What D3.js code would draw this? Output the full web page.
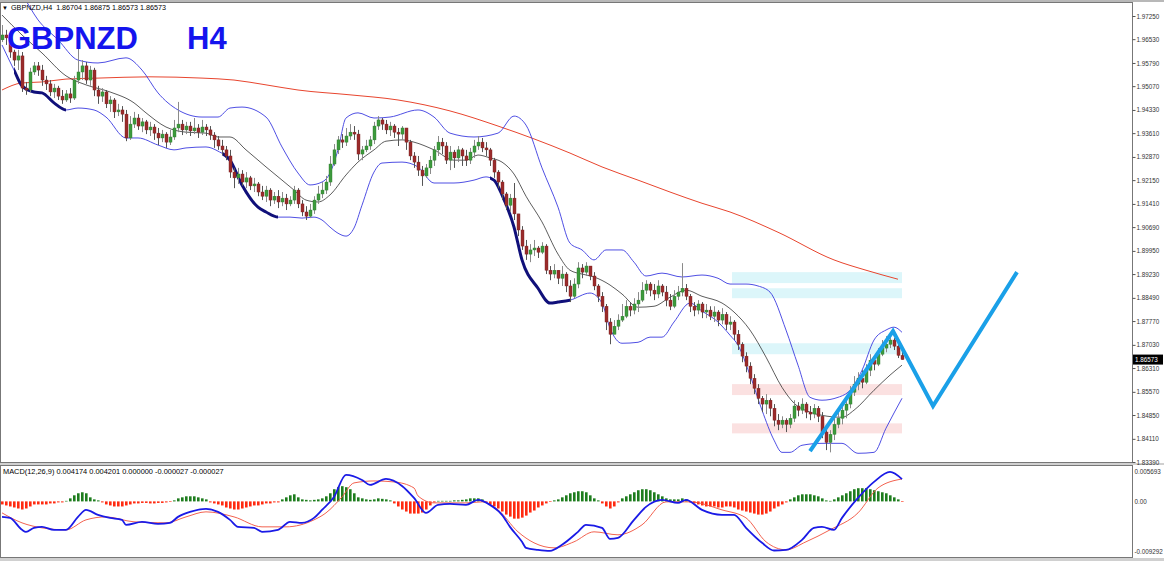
<!DOCTYPE html>
<html><head><meta charset="utf-8">
<script src="https://cdn.jsdelivr.net/npm/d3@7"></script>
<style>
body{margin:0;background:#fff;}
svg{display:block;}
text{font-family:"Liberation Sans",Arial,sans-serif;}
</style>
</head><body>
<svg id="c" width="1164" height="561"></svg>
<script>
// ---------------- DATA ----------------
const symbolLabel = "GBPNZD,H4";
const headerOHLC = ["1.86704", "1.86875", "1.86573", "1.86573"];
const titleSymbol = "GBPNZD";
const titlePeriod = "H4";
const lastPrice = 1.86573;
const firstOpen = 1.9651;

const closes = [1.9666,1.9657,1.9613,1.9588,1.9601,1.9501,1.9495,1.9551,1.9570,1.9557,1.9526,
1.9514,1.9489,1.9501,1.9476,1.9464,1.9483,1.9470,1.9526,1.9551,1.9570,
1.9526,1.9557,1.9495,1.9476,1.9489,1.9452,1.9464,1.9427,1.9433,1.9420,
1.9346,1.9389,1.9408,1.9383,1.9396,1.9371,1.9380,1.9361,1.9346,1.9358,
1.9333,1.9349,1.9377,1.9389,1.9371,1.9383,1.9368,1.9377,1.9364,1.9380,
1.9371,1.9355,1.9340,1.9321,1.9309,1.9290,1.9240,1.9222,1.9234,1.9209,
1.9222,1.9197,1.9203,1.9178,1.9165,1.9184,1.9153,1.9165,1.9147,1.9159,
1.9141,1.9153,1.9184,1.9141,1.9116,1.9103,1.9122,1.9153,1.9172,1.9184,
1.9209,1.9265,1.9309,1.9340,1.9333,1.9352,1.9364,1.9358,1.9296,1.9309,
1.9321,1.9340,1.9383,1.9402,1.9389,1.9371,1.9383,1.9364,1.9358,1.9377,
1.9333,1.9290,1.9271,1.9246,1.9228,1.9253,1.9277,1.9309,1.9333,1.9321,
1.9277,1.9302,1.9284,1.9309,1.9290,1.9277,1.9302,1.9321,1.9333,1.9315,
1.9309,1.9277,1.9240,1.9209,1.9172,1.9137,1.9159,1.9110,1.9060,1.9010,
1.8985,1.8998,1.9004,1.8991,1.9010,1.8935,1.8923,1.8935,1.8910,1.8923,
1.8886,1.8854,1.8892,1.8942,1.8929,1.8948,1.8917,1.8886,1.8854,1.8823,
1.8774,1.8736,1.8761,1.8780,1.8792,1.8823,1.8811,1.8830,1.8842,1.8873,
1.8892,1.8873,1.8861,1.8886,1.8867,1.8842,1.8823,1.8854,1.8867,1.8879,
1.8854,1.8823,1.8811,1.8830,1.8805,1.8811,1.8792,1.8805,1.8780,1.8798,
1.8767,1.8774,1.8736,1.8705,1.8668,1.8637,1.8599,1.8568,1.8537,1.8519,
1.8531,1.8506,1.8469,1.8456,1.8469,1.8456,1.8475,1.8513,1.8500,1.8519,
1.8494,1.8488,1.8506,1.8481,1.8432,1.8400,1.8425,1.8456,1.8475,1.8500,
1.8519,1.8556,1.8581,1.8599,1.8587,1.8624,1.8655,1.8643,1.8674,1.8693,
1.8705,1.8718,1.8699,1.86704,1.86573];

const highs = [1.9697,1.9682,1.9663,1.9620,1.9620,1.9613,1.9520,1.9564,1.9582,1.9582,1.9573,
1.9539,1.9526,1.9514,1.9508,1.9495,1.9495,1.9501,1.9539,1.9629,1.9588,
1.9582,1.9570,1.9564,1.9508,1.9501,1.9495,1.9476,1.9470,1.9452,1.9445,
1.9433,1.9414,1.9427,1.9420,1.9408,1.9402,1.9396,1.9389,1.9377,1.9371,
1.9364,1.9371,1.9402,1.9458,1.9402,1.9396,1.9396,1.9408,1.9389,1.9402,
1.9389,1.9383,1.9364,1.9352,1.9340,1.9321,1.9309,1.9253,1.9253,1.9246,
1.9240,1.9228,1.9222,1.9209,1.9197,1.9197,1.9190,1.9178,1.9184,1.9178,
1.9172,1.9165,1.9197,1.9190,1.9153,1.9134,1.9141,1.9165,1.9197,1.9209,
1.9228,1.9290,1.9327,1.9352,1.9358,1.9377,1.9389,1.9383,1.9371,1.9321,
1.9340,1.9352,1.9396,1.9414,1.9408,1.9402,1.9396,1.9389,1.9377,1.9383,
1.9377,1.9340,1.9302,1.9290,1.9259,1.9265,1.9290,1.9321,1.9352,1.9346,
1.9333,1.9321,1.9309,1.9321,1.9315,1.9309,1.9315,1.9340,1.9352,1.9346,
1.9333,1.9315,1.9284,1.9246,1.9215,1.9178,1.9172,1.9206,1.9103,1.9072,
1.9029,1.9016,1.9029,1.9010,1.9022,1.9016,1.8948,1.8954,1.8935,1.8948,
1.8929,1.8904,1.8910,1.8960,1.8954,1.8960,1.8948,1.8929,1.8892,1.8867,
1.8830,1.8786,1.8780,1.8798,1.8830,1.8842,1.8836,1.8848,1.8867,1.8898,
1.8904,1.8898,1.8892,1.8904,1.8892,1.8886,1.8861,1.8873,1.8886,1.8957,
1.8892,1.8861,1.8836,1.8842,1.8836,1.8830,1.8823,1.8823,1.8811,1.8817,
1.8805,1.8792,1.8780,1.8749,1.8711,1.8680,1.8649,1.8612,1.8581,1.8544,
1.8550,1.8537,1.8519,1.8488,1.8481,1.8475,1.8488,1.8531,1.8525,1.8537,
1.8525,1.8513,1.8519,1.8513,1.8494,1.8444,1.8438,1.8475,1.8494,1.8519,
1.8537,1.8575,1.8606,1.8618,1.8624,1.8643,1.8674,1.8668,1.8693,1.8718,
1.8730,1.8742,1.8724,1.8711,1.86875];

const lows = [1.9644,1.9635,1.9595,1.9570,1.9557,1.9489,1.9480,1.9489,1.9542,1.9539,1.9508,
1.9495,1.9476,1.9470,1.9464,1.9452,1.9458,1.9455,1.9464,1.9514,1.9526,
1.9514,1.9508,1.9476,1.9452,1.9458,1.9439,1.9427,1.9408,1.9414,1.9396,
1.9336,1.9340,1.9377,1.9371,1.9364,1.9358,1.9352,1.9340,1.9324,1.9333,
1.9315,1.9324,1.9340,1.9364,1.9355,1.9358,1.9352,1.9358,1.9346,1.9355,
1.9352,1.9340,1.9315,1.9309,1.9293,1.9277,1.9222,1.9190,1.9203,1.9197,
1.9190,1.9184,1.9178,1.9165,1.9153,1.9147,1.9134,1.9141,1.9128,1.9134,
1.9122,1.9134,1.9141,1.9128,1.9103,1.9091,1.9097,1.9110,1.9141,1.9159,
1.9172,1.9197,1.9259,1.9296,1.9315,1.9321,1.9340,1.9340,1.9277,1.9277,
1.9302,1.9309,1.9327,1.9371,1.9371,1.9358,1.9352,1.9346,1.9321,1.9340,
1.9309,1.9277,1.9253,1.9228,1.9197,1.9222,1.9234,1.9259,1.9290,1.9296,
1.9265,1.9246,1.9253,1.9271,1.9259,1.9259,1.9265,1.9284,1.9309,1.9302,
1.9290,1.9259,1.9222,1.9190,1.9153,1.9122,1.9116,1.9091,1.9041,1.8998,
1.8967,1.8960,1.8979,1.8973,1.8985,1.8923,1.8904,1.8910,1.8892,1.8886,
1.8867,1.8836,1.8848,1.8879,1.8910,1.8917,1.8904,1.8873,1.8836,1.8805,
1.8749,1.8705,1.8736,1.8749,1.8774,1.8786,1.8792,1.8798,1.8805,1.8836,
1.8861,1.8854,1.8842,1.8848,1.8854,1.8823,1.8811,1.8817,1.8842,1.8854,
1.8842,1.8805,1.8792,1.8798,1.8786,1.8786,1.8780,1.8774,1.8761,1.8767,
1.8749,1.8749,1.8718,1.8687,1.8649,1.8618,1.8581,1.8550,1.8519,1.8494,
1.8488,1.8481,1.8450,1.8438,1.8444,1.8432,1.8444,1.8463,1.8481,1.8488,
1.8475,1.8469,1.8475,1.8463,1.8413,1.8376,1.8369,1.8407,1.8444,1.8456,
1.8475,1.8506,1.8544,1.8562,1.8568,1.8581,1.8606,1.8624,1.8637,1.8668,
1.8680,1.8693,1.8687,1.8662,1.86573];

const priceTicks = [1.97250,1.96530,1.95790,1.95070,1.94330,1.93610,1.92870,1.92150,1.91410,1.90690,
1.89950,1.89230,1.88490,1.87770,1.87030,1.86310,1.85570,1.84850,1.84110,1.83390];

// Bollinger bands (sampled at bar index)
const upperIdx = [0,5,9,14,19,24,31,35,39,44,50,54,57,60,66,70,74,77,80,82,84,86,89,93,97,104,108,112,118,124,128,131,135,139,142,145,148,151,155,158,161,165,170,175,179,182,186,189,192,196,199,202,205,209,212,215,218,221,223,225];
const upperBand = [1.9853,1.9791,1.9713,1.9651,1.9588,1.9579,1.9595,1.9557,1.9486,1.9433,1.9411,1.9411,1.9439,1.9442,1.9411,1.9318,1.9237,1.9200,1.9209,1.9237,1.9309,1.9408,1.9424,1.9408,1.9411,1.9433,1.9411,1.9361,1.9349,1.9361,1.9414,1.9386,1.9253,1.9131,1.9019,1.8998,1.8967,1.8998,1.8998,1.8960,1.8917,1.8926,1.8914,1.8920,1.8910,1.8892,1.8892,1.8886,1.8867,1.8749,1.8640,1.8540,1.8531,1.8540,1.8562,1.8624,1.8718,1.8749,1.8758,1.8742];
const middleIdx = [0,5,10,16,21,27,33,36,41,46,51,54,57,61,66,70,73,76,79,82,86,89,93,96,100,103,108,113,116,119,122,125,128,131,135,139,142,145,148,152,155,159,163,167,171,175,180,183,187,191,195,198,202,205,210,213,218,222,225];
const middleBand = [1.9728,1.9666,1.9610,1.9539,1.9511,1.9489,1.9455,1.9424,1.9380,1.9364,1.9361,1.9349,1.9349,1.9309,1.9256,1.9215,1.9184,1.9153,1.9147,1.9169,1.9231,1.9271,1.9309,1.9336,1.9340,1.9333,1.9309,1.9277,1.9277,1.9293,1.9284,1.9271,1.9234,1.9165,1.9085,1.8985,1.8935,1.8923,1.8914,1.8889,1.8861,1.8820,1.8823,1.8851,1.8873,1.8854,1.8833,1.8805,1.8749,1.8665,1.8571,1.8522,1.8494,1.8484,1.8478,1.8500,1.8562,1.8609,1.8640];
const lowerIdx = [0,3,5,8,10,13,16,19,23,26,31,34,39,43,46,51,54,57,60,64,66,69,72,75,78,80,82,84,86,88,90,93,95,100,104,108,113,118,121,123,125,128,130,134,137,139,142,147,150,152,155,159,162,165,168,172,175,179,182,184,187,190,193,195,197,200,205,210,214,218,221,225];
const lowerBand = [1.9635,1.9557,1.9508,1.9489,1.9486,1.9455,1.9433,1.9439,1.9433,1.9411,1.9346,1.9346,1.9324,1.9309,1.9315,1.9318,1.9305,1.9277,1.9200,1.9131,1.9116,1.9100,1.9100,1.9097,1.9100,1.9091,1.9069,1.9050,1.9041,1.9066,1.9137,1.9240,1.9268,1.9271,1.9256,1.9206,1.9206,1.9215,1.9225,1.9215,1.9169,1.9069,1.8967,1.8879,1.8833,1.8836,1.8842,1.8864,1.8833,1.8755,1.8708,1.8711,1.8727,1.8727,1.8774,1.8833,1.8808,1.8774,1.8733,1.8702,1.8609,1.8500,1.8407,1.8369,1.8369,1.8391,1.8397,1.8397,1.8366,1.8369,1.8444,1.8537];
// bar ranges where the lower band is drawn bold
const boldFrom = [3, 55, 122];
const boldTo = [16, 69, 142];

// Moving average (red)
const maIdx = [0,5,10,16,24,37,50,58,66,74,87,99,112,124,142,150,159,167,175,182,194,208,216,224];
const maValues = [1.9495,1.9517,1.9520,1.9529,1.9532,1.9536,1.9532,1.9526,1.9511,1.9495,1.9480,1.9464,1.9430,1.9383,1.9299,1.9256,1.9215,1.9178,1.9143,1.9116,1.9053,1.8967,1.8935,1.8907];

// Zones
const zoneStart = 182.5, zoneEnd = 225;
const zoneHigh = [1.8929, 1.8879, 1.8708, 1.8581, 1.8459];
const zoneLow  = [1.8895, 1.8848, 1.8674, 1.8547, 1.8428];
const zoneKind = ["supply","supply","supply","demand","demand"];

// Projection zigzag
const zigIdx = [202, 222.75, 232.75, 253.75];
const zigPrice = [1.8373, 1.8746, 1.8513, 1.8929];

// MACD
const macdLabel = "MACD(12,26,9) 0.004174 0.004201 0.000000 -0.000027 -0.000027";
const macdTicks = [0.005693, 0, -0.009292];
const macdTickLabels = ["0.005693", "0.00", "-0.009292"];
const histogram = [-0.00057,-0.00076,-0.00095,-0.00114,-0.00133,-0.00152,-0.00133,-0.00095,-0.00057,-0.00057,
-0.00057,-0.00057,-0.00038,-0.00038,-0.00019,-0.00019,0.00010,0.00057,0.00114,0.00152,
0.00171,0.00152,0.00076,0.00038,0.00019,-0.00019,-0.00057,-0.00076,-0.00095,-0.00095,
-0.00095,-0.00076,-0.00057,-0.00038,-0.00038,-0.00029,-0.00029,-0.00038,-0.00038,-0.00029,
-0.00029,-0.00019,-0.00010,0.00019,0.00057,0.00076,0.00095,0.00095,0.00095,0.00076,
0.00057,0.00038,-0.00019,-0.00038,-0.00057,-0.00076,-0.00114,-0.00133,-0.00152,-0.00152,
-0.00133,-0.00114,-0.00095,-0.00076,-0.00076,-0.00057,-0.00038,-0.00038,-0.00019,-0.00019,
0.00038,0.00076,0.00114,0.00133,0.00076,0.00038,0.00029,0.00019,0.00029,0.00038,
0.00057,0.00095,0.00152,0.00228,0.00266,0.00285,0.00266,0.00228,0.00152,0.00076,
0.00057,0.00038,0.00029,0.00038,0.00057,0.00048,0.00038,0.00019,-0.00038,-0.00095,
-0.00152,-0.00190,-0.00228,-0.00228,-0.00228,-0.00209,-0.00152,-0.00076,-0.00019,0.00010,
0.00010,0.00010,0.00010,0.00019,0.00019,0.00029,0.00038,0.00057,0.00057,0.00057,
0.00038,-0.00019,-0.00057,-0.00095,-0.00133,-0.00190,-0.00247,-0.00285,-0.00323,-0.00323,
-0.00304,-0.00266,-0.00209,-0.00171,-0.00114,-0.00076,-0.00038,-0.00010,0.00019,0.00038,
0.00076,0.00114,0.00152,0.00171,0.00190,0.00190,0.00171,0.00114,0.00057,0.00019,
-0.00038,-0.00095,-0.00133,-0.00095,-0.00019,0.00057,0.00095,0.00133,0.00171,0.00209,
0.00228,0.00228,0.00209,0.00171,0.00133,0.00095,0.00057,0.00038,0.00038,0.00038,
0.00057,0.00038,-0.00019,-0.00038,-0.00057,-0.00076,-0.00095,-0.00095,-0.00095,-0.00114,
-0.00114,-0.00095,-0.00095,-0.00114,-0.00152,-0.00171,-0.00190,-0.00209,-0.00228,-0.00247,
-0.00247,-0.00228,-0.00190,-0.00133,-0.00095,-0.00057,-0.00019,0.00038,0.00076,0.00114,
0.00133,0.00133,0.00133,0.00114,0.00095,0.00057,0.00019,0.00010,0.00038,0.00076,
0.00114,0.00152,0.00190,0.00228,0.00247,0.00247,0.00247,0.00228,0.00209,0.00190,
0.00171,0.00152,0.00114,0.00076,0.00038,-0.000027];
const macdIdx = [0,2,5,6,8,10,13,16,19,21,24,27,30,31,35,39,42,44,47,51,54,57,59,63,65,69,72,75,78,80,83,86,90,92,96,100,103,106,109,112,116,119,122,125,127,130,131,134,137,140,144,146,150,152,154,158,161,165,169,171,175,180,183,186,190,193,196,200,203,205,208,210,214,218,222,225];
const macdMain = [-0.00290,-0.00309,-0.00533,-0.00570,-0.00496,-0.00477,-0.00533,-0.00533,-0.00290,-0.00159,-0.00252,-0.00309,-0.00346,-0.00439,-0.00383,-0.00421,-0.00402,-0.00290,-0.00196,-0.00140,-0.00196,-0.00346,-0.00477,-0.00496,-0.00570,-0.00533,-0.00383,-0.00402,-0.00309,-0.00159,0.00084,0.00496,0.00402,0.00309,0.00421,0.00290,0.00065,-0.00215,-0.00065,-0.00047,-0.00065,0.00028,-0.00065,-0.00252,-0.00477,-0.00757,-0.00870,-0.00907,-0.00925,-0.00813,-0.00570,-0.00439,-0.00496,-0.00701,-0.00683,-0.00346,-0.00103,0.00028,-0.00028,0.00028,-0.00159,-0.00252,-0.00252,-0.00496,-0.00776,-0.00920,-0.00910,-0.00720,-0.00496,-0.00477,-0.00533,-0.00309,0.00065,0.00365,0.00552,0.004174];
const signalIdx = [0,5,10,16,21,26,33,41,46,51,58,65,71,78,81,85,88,93,98,103,104,108,116,120,124,129,133,138,143,148,154,160,166,172,180,186,191,196,201,207,214,219,225];
const macdSignal = [-0.00215,-0.00402,-0.00496,-0.00533,-0.00346,-0.00290,-0.00383,-0.00402,-0.00290,-0.00196,-0.00290,-0.00477,-0.00477,-0.00346,-0.00215,0.00084,0.00346,0.00383,0.00365,0.00252,0.00103,-0.00028,-0.00028,-0.00009,-0.00159,-0.00570,-0.00776,-0.00870,-0.00757,-0.00570,-0.00626,-0.00439,-0.00009,-0.00009,-0.00159,-0.00309,-0.00757,-0.00907,-0.00757,-0.00533,-0.00215,0.00252,0.004201];

// ---------------- DRAW ----------------
const W = 1164, H = 561;
const plotRight = 1132;
const mainTop = 2, mainBottom = 463;
const macdTop = 465, macdBottom = 558;

const svg = d3.select("#c");
const x = d3.scaleLinear().domain([0, 282.5]).range([2, plotRight]);
const y = d3.scaleLinear().domain([1.83390, 1.97250]).range([462, 16]);
const ym = d3.scaleLinear().domain([-0.009292, 0.005693]).range([551, 471]);

const defs = svg.append("defs");
defs.append("clipPath").attr("id","clipMain").append("rect")
  .attr("x",0).attr("y",mainTop).attr("width",plotRight).attr("height",mainBottom-mainTop);
defs.append("clipPath").attr("id","clipMacd").append("rect")
  .attr("x",0).attr("y",macdTop).attr("width",plotRight).attr("height",macdBottom-macdTop);
const boldClip = defs.append("clipPath").attr("id","clipBold");
boldFrom.forEach((a,k)=>{
  boldClip.append("rect").attr("x",x(a)).attr("y",mainTop)
    .attr("width",x(boldTo[k])-x(a)).attr("height",mainBottom-mainTop);
});

svg.append("rect").attr("width",W).attr("height",H).attr("fill","#fff");

const gMain = svg.append("g").attr("clip-path","url(#clipMain)");

// zones
zoneHigh.forEach((hi,k)=>{
  gMain.append("rect")
    .attr("x", x(zoneStart)).attr("width", x(zoneEnd)-x(zoneStart))
    .attr("y", y(hi)).attr("height", y(zoneLow[k]) - y(hi))
    .attr("fill", zoneKind[k]==="supply" ? "#dcf6fa" : "#fbe1e1");
});

const curve = d3.curveMonotoneX;
const lineOf = (idx, vals, sy) => d3.line().curve(curve)
  .x((d,i)=>x(idx[i])).y((d,i)=>sy(vals[i]))(vals);

// moving average
gMain.append("path").attr("d", lineOf(maIdx, maValues, y))
  .attr("fill","none").attr("stroke","#e8452e").attr("stroke-width",1);

// bands
gMain.append("path").attr("d", lineOf(upperIdx, upperBand, y))
  .attr("fill","none").attr("stroke","#3b3be0").attr("stroke-width",0.9);
gMain.append("path").attr("d", lineOf(middleIdx, middleBand, y))
  .attr("fill","none").attr("stroke","#333").attr("stroke-width",0.8);
gMain.append("path").attr("d", lineOf(lowerIdx, lowerBand, y))
  .attr("fill","none").attr("stroke","#3b3be0").attr("stroke-width",0.9);
gMain.append("g").attr("clip-path","url(#clipBold)")
  .append("path").attr("d", lineOf(lowerIdx, lowerBand, y))
  .attr("fill","none").attr("stroke","#10107a").attr("stroke-width",3).attr("stroke-linecap","round");

// candles
const opens = closes.map((c,i)=> i===0 ? firstOpen : closes[i-1]);
const candles = gMain.append("g");
closes.forEach((c,i)=>{
  const o = opens[i];
  const hi = Math.max(highs[i], o, c), lo = Math.min(lows[i], o, c);
  const cx = Math.round(x(i)) + 0.5;
  const up = c >= o;
  candles.append("line").attr("x1",cx).attr("x2",cx)
    .attr("y1",y(hi)).attr("y2",y(lo))
    .attr("stroke", up ? "#8a8a8a" : "#555").attr("stroke-width",1);
  const top = y(Math.max(o,c)), bot = y(Math.min(o,c));
  candles.append("rect").attr("x",cx-1.5).attr("width",3)
    .attr("y",top).attr("height",Math.max(1,bot-top))
    .attr("fill", up ? "#3d9a3d" : "#9a2b2b")
    .attr("stroke", up ? "#2c7a2c" : "#7a1e1e").attr("stroke-width",0.4);
});

// zigzag projection
gMain.append("path")
  .attr("d", d3.line().x((d,i)=>x(zigIdx[i])).y((d,i)=>y(zigPrice[i]))(zigPrice))
  .attr("fill","none").attr("stroke","#1aa0e8").attr("stroke-width",4)
  .attr("stroke-linejoin","miter").attr("stroke-linecap","butt");

// titles
svg.append("text").attr("x",2).attr("y",10).attr("font-size",6).attr("fill","#000").text("\u25BC");
svg.append("text").attr("x",11).attr("y",10).attr("font-size",7.2).attr("fill","#000")
  .attr("xml:space","preserve")
  .text(symbolLabel + "  " + headerOHLC.join(" "));
svg.append("text").attr("x",7).attr("y",49).attr("font-size",31).attr("font-weight","bold")
  .attr("font-family","Liberation Sans, Arial").attr("fill","#1414ee").text(titleSymbol);
svg.append("text").attr("x",187).attr("y",49).attr("font-size",31).attr("font-weight","bold")
  .attr("font-family","Liberation Sans, Arial").attr("fill","#1414ee").text(titlePeriod);

// MACD panel
const gM = svg.append("g").attr("clip-path","url(#clipMacd)");
const z0 = ym(0);
gM.selectAll("rect.h").data(histogram).enter().append("rect")
  .attr("x",(d,i)=>Math.round(x(i))-1).attr("width",2.6)
  .attr("y",d=> d>=0 ? ym(d) : z0)
  .attr("height",d=> Math.max(0.6, Math.abs(ym(d)-z0)))
  .attr("fill",d=> d>=0 ? "#1e7d1e" : "#ff2a10");
gM.append("path").attr("d", lineOf(signalIdx, macdSignal, ym))
  .attr("fill","none").attr("stroke","#f0503c").attr("stroke-width",0.9);
gM.append("path").attr("d", lineOf(macdIdx, macdMain, ym))
  .attr("fill","none").attr("stroke","#1a1ae6").attr("stroke-width",1.8);
svg.append("text").attr("x",3).attr("y",474).attr("font-size",7.4).attr("fill","#000").text(macdLabel);

// frames
svg.append("rect").attr("x",0).attr("y",0).attr("width",W).attr("height",2).attr("fill","#b8b8b8");
svg.append("rect").attr("x",0).attr("y",mainBottom).attr("width",W).attr("height",macdTop-mainBottom).attr("fill","#d0d0d0");
svg.append("rect").attr("x",0).attr("y",macdBottom).attr("width",W).attr("height",H-macdBottom).attr("fill","#d0d0d0");
svg.append("rect").attr("x",0.5).attr("y",mainTop+0.5).attr("width",plotRight).attr("height",mainBottom-mainTop-1)
  .attr("fill","none").attr("stroke","#777");
svg.append("rect").attr("x",0.5).attr("y",macdTop+0.5).attr("width",plotRight).attr("height",macdBottom-macdTop-1)
  .attr("fill","none").attr("stroke","#777");

// axes
const axMain = svg.append("g").attr("transform",`translate(${plotRight+0.5},0)`)
  .call(d3.axisRight(y).tickValues(priceTicks).tickFormat(d3.format(".5f")).tickSize(3).tickPadding(1));
axMain.select(".domain").remove();
axMain.selectAll("line").attr("stroke","#555");
axMain.selectAll("text").attr("font-size",6.3).attr("fill","#333").attr("font-family","Liberation Sans, Arial");

const axM = svg.append("g").attr("transform",`translate(${plotRight+0.5},0)`)
  .call(d3.axisRight(ym).tickValues(macdTicks).tickFormat((d,i)=>macdTickLabels[i]).tickSize(0).tickPadding(2));
axM.select(".domain").remove();
axM.selectAll("text").attr("font-size",6.3).attr("fill","#333").attr("font-family","Liberation Sans, Arial");

// last price label
const ly = y(lastPrice);
svg.append("rect").attr("x",plotRight+1).attr("y",ly-5).attr("width",30).attr("height",10).attr("fill","#000");
svg.append("text").attr("x",plotRight+3).attr("y",ly+2.3).attr("font-size",6.3).attr("fill","#fff")
  .attr("font-family","Liberation Sans, Arial").text(d3.format(".5f")(lastPrice));
</script>
</body></html>
